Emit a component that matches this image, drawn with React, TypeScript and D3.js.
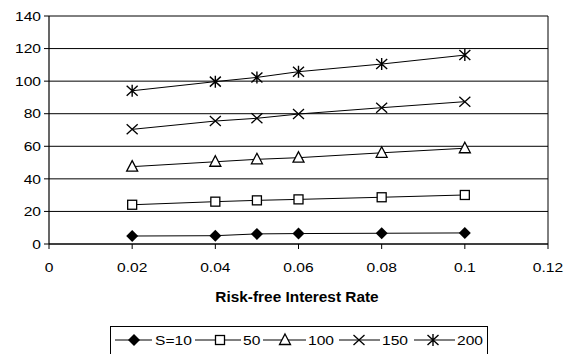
import React from "react";
import * as d3 from "d3";

const rates = [0.02, 0.04, 0.05, 0.06, 0.08, 0.1];
const seriesNames = ["S=10", "50", "100", "150", "200"];
const s10 = [4.9, 5.1, 6.2, 6.4, 6.6, 6.8];
const s50 = [24.1, 26.0, 26.8, 27.4, 28.7, 30.1];
const s100 = [47.5, 50.5, 52.0, 53.0, 56.0, 58.8];
const s150 = [70.4, 75.5, 77.2, 79.8, 83.7, 87.4];
const s200 = [94.1, 99.7, 102.3, 105.8, 110.5, 116.0];
const markers = ["diamond", "square", "triangle", "cross", "star"];
const xTicks = [0, 0.02, 0.04, 0.06, 0.08, 0.1, 0.12];
const yTicks = [0, 20, 40, 60, 80, 100, 120, 140];
const xTitle = "Risk-free Interest Rate";

const W = 565;
const H = 354;
const FONT = "'Liberation Sans', Arial, sans-serif";

function Marker({ kind, x, y }: { kind: string; x: number; y: number }) {
  const s = 5;
  switch (kind) {
    case "diamond":
      return (
        <path
          d={`M${x},${y - s - 1}L${x + s + 1},${y}L${x},${y + s + 1}L${x - s - 1},${y}Z`}
          fill="#000"
        />
      );
    case "square":
      return (
        <rect x={x - 4.5} y={y - 4.5} width={9} height={9} fill="#fff" stroke="#000" strokeWidth={1.3} />
      );
    case "triangle":
      return (
        <path
          d={`M${x},${y - 6}L${x + 5.5},${y + 4.5}L${x - 5.5},${y + 4.5}Z`}
          fill="#fff"
          stroke="#000"
          strokeWidth={1.3}
        />
      );
    case "cross":
      return (
        <path
          d={`M${x - 5.5},${y - 5}L${x + 5.5},${y + 5}M${x - 5.5},${y + 5}L${x + 5.5},${y - 5}`}
          stroke="#000"
          strokeWidth={1.3}
        />
      );
    default:
      return (
        <path
          d={`M${x - 5.5},${y - 5}L${x + 5.5},${y + 5}M${x - 5.5},${y + 5}L${x + 5.5},${y - 5}M${x},${y - 6}L${x},${y + 6}`}
          stroke="#000"
          strokeWidth={1.4}
        />
      );
  }
}

function Label({
  x,
  y,
  anchor,
  children,
  bold,
  size = 13,
  sx = 1.2,
}: {
  x: number;
  y: number;
  anchor: "start" | "middle" | "end";
  children: React.ReactNode;
  bold?: boolean;
  size?: number;
  sx?: number;
}) {
  return (
    <g transform={`translate(${x},${y}) scale(${sx},1)`}>
      <text
        x={0}
        y={0}
        textAnchor={anchor}
        fontFamily={FONT}
        fontSize={size}
        fontWeight={bold ? "bold" : "normal"}
        fill="#000"
      >
        {children}
      </text>
    </g>
  );
}

export default function App() {
  const x = d3.scaleLinear().domain([0, 0.12]).range([49, 548]);
  const y = d3.scaleLinear().domain([0, 140]).range([244, 16]);
  const all = [s10, s50, s100, s150, s200];
  const line = d3
    .line<number>()
    .x((_, i) => x(rates[i]))
    .y((d) => y(d));

  // legend layout: line start, marker, line end, text start
  const legendItems = [
    { l0: 115, m: 134, l1: 152, t: 155 },
    { l0: 195, m: 220, l1: 241, t: 243 },
    { l0: 263, m: 285, l1: 306, t: 308 },
    { l0: 339, m: 359, l1: 380, t: 382 },
    { l0: 414, m: 433, l1: 455, t: 457 },
  ];
  const ly = 340;

  return (
    <svg
      width={W}
      height={H}
      style={{ position: "absolute", left: 0, top: 0, background: "#fff" }}
    >
      <rect x={0} y={0} width={W} height={H} fill="#fff" />
      {/* horizontal gridlines */}
      {yTicks.map((t) => (
        <line key={t} x1={x(0)} x2={x(0.12)} y1={y(t)} y2={y(t)} stroke="#000" strokeWidth={1} />
      ))}
      {/* plot frame */}
      <line x1={x(0.12)} x2={x(0.12)} y1={y(140)} y2={y(0)} stroke="#000" strokeWidth={1} />
      <line x1={x(0)} x2={x(0)} y1={y(140)} y2={y(0)} stroke="#000" strokeWidth={1.2} />
      <line x1={x(0)} x2={x(0.12)} y1={y(0)} y2={y(0)} stroke="#000" strokeWidth={1.2} />
      {/* axis ticks */}
      {yTicks.map((t) => (
        <line key={"yt" + t} x1={x(0) - 5} x2={x(0)} y1={y(t)} y2={y(t)} stroke="#000" />
      ))}
      {xTicks.map((t) => (
        <line key={"xt" + t} x1={x(t)} x2={x(t)} y1={y(0)} y2={y(0) + 5} stroke="#000" />
      ))}
      {yTicks.map((t) => (
        <Label key={"yl" + t} x={41} y={y(t) + 4.7} anchor="end">
          {String(t)}
        </Label>
      ))}
      {xTicks.map((t) => (
        <Label key={"xl" + t} x={x(t)} y={272} anchor="middle">
          {String(t)}
        </Label>
      ))}
      <Label x={297} y={301.5} anchor="middle" bold size={14} sx={1.1}>
        {xTitle}
      </Label>
      {/* series */}
      {all.map((vals, si) => (
        <g key={si}>
          <path d={line(vals) || ""} fill="none" stroke="#000" strokeWidth={1} />
          {vals.map((v, i) => (
            <Marker key={i} kind={markers[si]} x={x(rates[i])} y={y(v)} />
          ))}
        </g>
      ))}
      {/* legend */}
      <rect x={110.5} y={326.5} width={377} height={40} fill="#fff" stroke="#000" strokeWidth={1} />
      {legendItems.map((it, i) => (
        <g key={i}>
          <line x1={it.l0} x2={it.l1} y1={ly} y2={ly} stroke="#000" strokeWidth={1} />
          <Marker kind={markers[i]} x={it.m} y={ly} />
          <Label x={it.t} y={ly + 4.7} anchor="start">
            {seriesNames[i]}
          </Label>
        </g>
      ))}
    </svg>
  );
}
